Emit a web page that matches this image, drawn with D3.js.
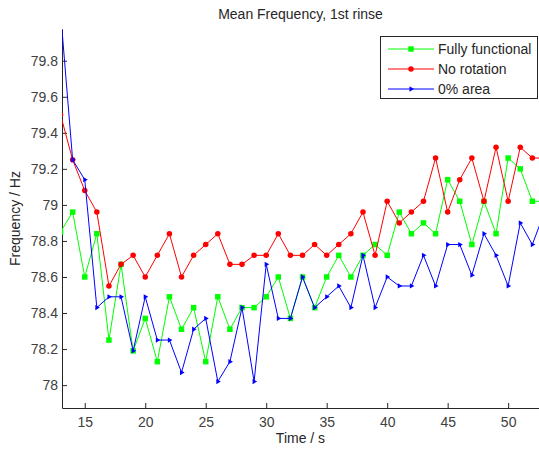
<!DOCTYPE html>
<html>
<head>
<meta charset="utf-8">
<script src="https://cdn.jsdelivr.net/npm/d3@7"></script>
<style>
  body { margin: 0; background: #fff; }
  text { font-family: "Liberation Sans", Arial, sans-serif; }
</style>
</head>
<body>
<script>
// Time axis (s)
var times = d3.range(13, 54);

// Mean frequency (Hz) per series
var fullyFunctional = [78.85, 78.96, 78.60, 78.84, 78.25, 78.67, 78.19, 78.37, 78.13, 78.49,
    78.31, 78.43, 78.13, 78.49, 78.31, 78.43, 78.43, 78.49, 78.60, 78.37,
    78.60, 78.43, 78.60, 78.72, 78.60, 78.72, 78.78, 78.72, 78.96, 78.84,
    78.90, 78.84, 79.14, 79.02, 78.78, 79.02, 78.84, 79.26, 79.20, 79.02, 79.02];
var noRotation = [79.50, 79.25, 79.08, 78.96, 78.55, 78.67, 78.72, 78.60, 78.72, 78.84,
    78.60, 78.72, 78.78, 78.84, 78.67, 78.67, 78.72, 78.72, 78.84, 78.72,
    78.72, 78.78, 78.72, 78.78, 78.84, 78.96, 78.72, 79.02, 78.90, 78.96,
    79.02, 79.26, 78.96, 79.14, 79.26, 79.02, 79.32, 79.02, 79.32, 79.26, 79.26];
var zeroArea = [80.07, 79.25, 79.14, 78.43, 78.49, 78.49, 78.19, 78.49, 78.25, 78.25,
    78.07, 78.31, 78.37, 78.02, 78.13, 78.43, 78.02, 78.67, 78.37, 78.37,
    78.60, 78.43, 78.49, 78.55, 78.43, 78.72, 78.43, 78.60, 78.55, 78.55,
    78.72, 78.55, 78.78, 78.78, 78.61, 78.84, 78.72, 78.55, 78.90, 78.78, 78.96];

var xTicks = [15, 20, 25, 30, 35, 40, 45, 50];
var yTicks = [78, 78.2, 78.4, 78.6, 78.8, 79, 79.2, 79.4, 79.6, 79.8];

var seriesNames = ["Fully functional", "No rotation", "0% area"];
var seriesColors = ["#00ff00", "#ff0000", "#0000ff"];

function init() {
    var w = 539, h = 450;
    var mLeft = 62, mRight = 539, mTop = 29, mBottom = 408;

    var svg = d3.select("body").append("svg")
        .attr("width", w)
        .attr("height", h);

    var x = d3.scaleLinear().domain([13.12, 52.55]).range([mLeft, mRight]);
    var y = d3.scaleLinear().domain([77.873, 79.976]).range([mBottom, mTop]);

    svg.append("clipPath").attr("id", "clip")
        .append("rect")
        .attr("x", mLeft).attr("y", mTop)
        .attr("width", mRight - mLeft).attr("height", mBottom - mTop);

    var axisColor = "#262626";

    // x axis, ticks pointing inward
    var xAxis = svg.append("g")
        .attr("transform", "translate(0," + mBottom + ")")
        .call(d3.axisBottom(x).tickValues(xTicks).tickSizeInner(-5).tickSizeOuter(0).tickPadding(9));
    xAxis.select(".domain").attr("stroke", axisColor);
    xAxis.selectAll(".tick line").attr("stroke", axisColor);
    xAxis.selectAll("text").attr("fill", "#404040").style("font-size", "14px");

    var yAxis = svg.append("g")
        .attr("transform", "translate(" + mLeft + ",0)")
        .call(d3.axisLeft(y).tickValues(yTicks).tickFormat(d3.format("")).tickSizeInner(-5).tickSizeOuter(0).tickPadding(4));
    yAxis.select(".domain").attr("stroke", axisColor);
    yAxis.selectAll(".tick line").attr("stroke", axisColor);
    yAxis.selectAll("text").attr("fill", "#404040").style("font-size", "14px");

    // titles
    svg.append("text")
        .attr("x", (mLeft + mRight) / 2).attr("y", 19)
        .attr("text-anchor", "middle")
        .attr("fill", "#262626")
        .style("font-size", "14px")
        .text("Mean Frequency, 1st rinse");

    svg.append("text")
        .attr("x", (mLeft + mRight) / 2).attr("y", 443)
        .attr("text-anchor", "middle")
        .attr("fill", "#262626")
        .style("font-size", "14px")
        .text("Time / s");

    svg.append("text")
        .attr("transform", "translate(20," + ((mTop + mBottom) / 2) + ") rotate(-90)")
        .attr("text-anchor", "middle")
        .attr("fill", "#262626")
        .style("font-size", "14px")
        .text("Frequency / Hz");

    // markers
    var symbols = [
        d3.symbol().type(d3.symbolSquare).size(30),
        d3.symbol().type(d3.symbolCircle).size(24),
        d3.symbol().type(d3.symbolTriangle).size(12)
    ];
    var rotations = [0, 0, 90];

    var allSeries = [fullyFunctional, noRotation, zeroArea];
    var line = d3.line()
        .x(function(d, i) { return x(times[i]); })
        .y(function(d) { return y(d); });

    var plot = svg.append("g").attr("clip-path", "url(#clip)");

    allSeries.forEach(function(vals, s) {
        plot.append("path")
            .datum(vals)
            .attr("d", line)
            .attr("fill", "none")
            .attr("stroke", seriesColors[s])
            .attr("stroke-width", 1);
        plot.selectAll(".m" + s)
            .data(vals)
            .enter()
            .append("path")
            .attr("class", "m" + s)
            .attr("d", symbols[s])
            .attr("fill", seriesColors[s])
            .attr("transform", function(d, i) {
                return "translate(" + x(times[i]) + "," + y(d) + ") rotate(" + rotations[s] + ")";
            });
    });

    // legend
    var lg = svg.append("g");
    lg.append("rect")
        .attr("x", 380.5).attr("y", 36.5)
        .attr("width", 157).attr("height", 62)
        .attr("fill", "#fff")
        .attr("stroke", axisColor);

    seriesNames.forEach(function(name, s) {
        var ly = 49 + s * 20;
        lg.append("line")
            .attr("x1", 388).attr("x2", 434)
            .attr("y1", ly).attr("y2", ly)
            .attr("stroke", seriesColors[s]);
        lg.append("path")
            .attr("d", symbols[s])
            .attr("fill", seriesColors[s])
            .attr("transform", "translate(411," + ly + ") rotate(" + rotations[s] + ")");
        lg.append("text")
            .attr("x", 438).attr("y", ly + 5)
            .attr("fill", "#262626")
            .style("font-size", "14px")
            .text(name);
    });
}
window.onload = init;
</script>
</body>
</html>
